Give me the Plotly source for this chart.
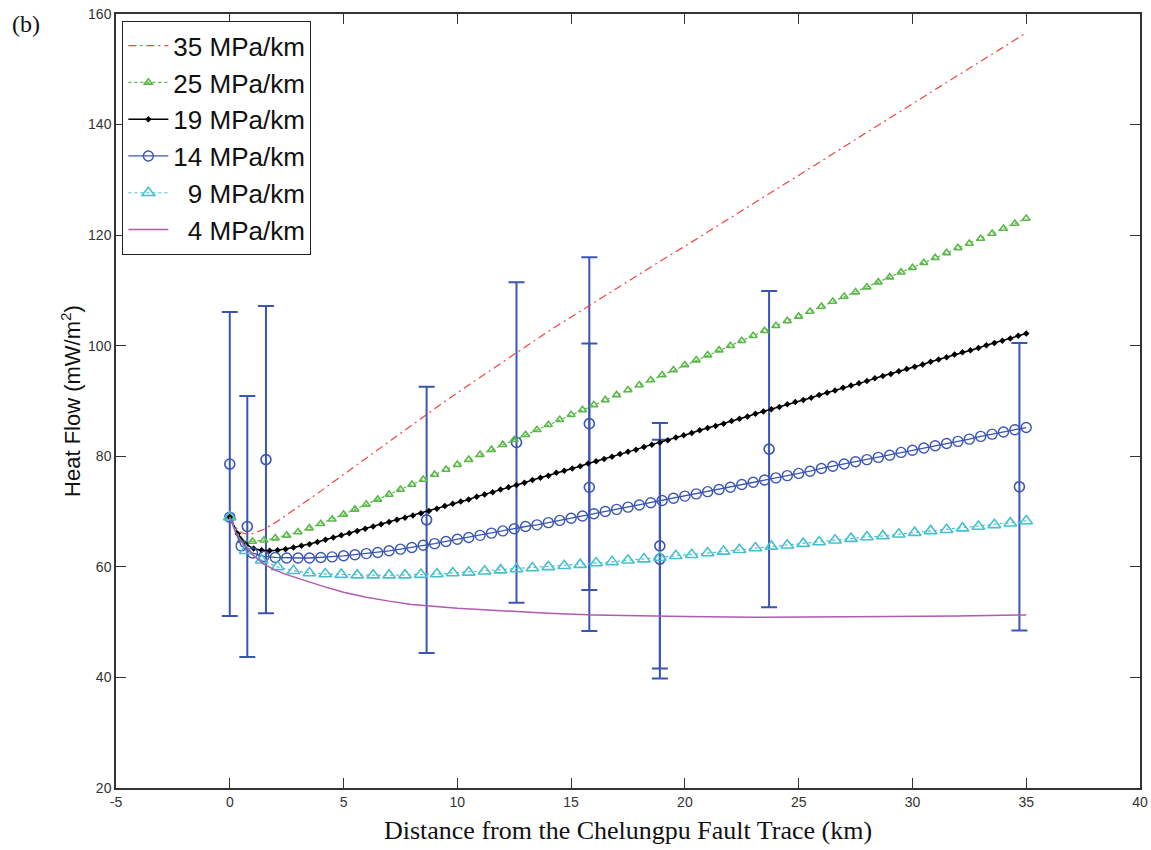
import numpy as np
import plotly.graph_objects as go

# ---------------- data ----------------
# measured heat flow with error bars
obs_x = [0.0, 0.77, 1.59, 8.65, 12.6, 15.8, 15.8, 18.9, 18.9, 23.7, 34.7]
obs_y = [78.6, 67.3, 79.4, 68.5, 82.5, 85.9, 74.4, 63.8, 61.4, 81.3, 74.5]
obs_err = [27.5, 23.6, 27.8, 24.1, 29.0, 30.1, 26.0, 22.2, 21.6, 28.6, 26.0]

# 35 MPa/km (dash-dot red line)
x35 = [0, 0.25, 0.5, 0.75, 1, 1.5, 2, 3, 4, 5, 6, 7, 8, 9, 10, 11, 12, 13, 14,
       15, 16, 17, 18, 19, 20, 22, 24, 26, 28, 30, 32, 34, 35]
y35 = [69.0, 67.2, 66.2, 65.9, 66.0, 66.8, 68.0, 70.8, 73.7, 76.7, 79.7, 82.7,
       85.7, 88.6, 91.5, 94.3, 97.1, 99.9, 102.6, 105.2, 107.8, 110.4, 113.0,
       115.5, 118.0, 123.1, 128.3, 133.4, 138.6, 143.8, 148.9, 154.0, 156.6]

# 25 MPa/km (green dotted, small triangles), every 0.5 km
x25 = list(np.round(np.arange(0, 35.01, 0.5), 2))
y25 = [69.0, 64.8, 64.6, 64.8, 65.2, 65.7, 66.3, 67.0, 67.8, 68.6,
       69.5, 70.4, 71.3, 72.2, 73.1, 74.0, 74.9, 75.8, 76.7, 77.6,
       78.5, 79.4, 80.3, 81.2, 82.1, 83.0, 83.9, 84.8, 85.7, 86.6,
       87.5, 88.4, 89.3, 90.2, 91.1, 92.0, 92.9, 93.8, 94.7, 95.6,
       96.5, 97.4, 98.3, 99.2, 100.0, 100.9, 101.8, 102.7, 103.6, 104.5,
       105.3, 106.2, 107.1, 108.0, 108.9, 109.7, 110.6, 111.5, 112.4, 113.3,
       114.1, 115.0, 115.9, 116.8, 117.7, 118.5, 119.4, 120.3, 121.2, 122.1,
       123.0]

# 19 MPa/km (black solid, dots), every 0.35 km
x19 = list(np.round(np.linspace(0, 35, 101), 3))
y19 = [69.0, 66.0, 64.1, 63.3, 63.0, 62.9, 63.0, 63.2, 63.5, 63.8,
       64.1, 64.5, 64.9, 65.3, 65.7, 66.1, 66.5, 66.9, 67.3, 67.7,
       68.1, 68.5, 68.9, 69.3, 69.7, 70.1, 70.5, 71.0, 71.4, 71.8,
       72.2, 72.7, 73.1, 73.5, 74.0, 74.4, 74.8, 75.2, 75.7, 76.1,
       76.5, 77.0, 77.4, 77.8, 78.2, 78.7, 79.1, 79.5, 79.9, 80.4,
       80.8, 81.2, 81.7, 82.1, 82.5, 82.9, 83.4, 83.8, 84.2, 84.7,
       85.1, 85.5, 85.9, 86.4, 86.8, 87.2, 87.7, 88.1, 88.5, 88.9,
       89.4, 89.8, 90.2, 90.6, 91.1, 91.5, 91.9, 92.4, 92.8, 93.2,
       93.6, 94.1, 94.5, 94.9, 95.4, 95.8, 96.2, 96.6, 97.1, 97.5,
       97.9, 98.4, 98.8, 99.2, 99.6, 100.1, 100.5, 100.9, 101.3, 101.8,
       102.2]

# 14 MPa/km (blue solid, open circles), every 0.5 km
x14 = list(np.round(np.arange(0, 35.01, 0.5), 2))
y14 = [69.0, 63.8, 62.5, 61.9, 61.7, 61.6, 61.6, 61.6, 61.7, 61.8,
       62.0, 62.2, 62.4, 62.6, 62.9, 63.2, 63.5, 63.9, 64.2, 64.6,
       65.0, 65.3, 65.7, 66.1, 66.5, 66.9, 67.3, 67.6, 68.0, 68.4,
       68.8, 69.2, 69.6, 70.0, 70.4, 70.8, 71.2, 71.6, 72.0, 72.4,
       72.8, 73.2, 73.6, 74.0, 74.4, 74.9, 75.3, 75.7, 76.1, 76.5,
       76.9, 77.3, 77.8, 78.2, 78.6, 79.0, 79.4, 79.8, 80.2, 80.7,
       81.1, 81.5, 81.9, 82.3, 82.7, 83.1, 83.6, 84.0, 84.4, 84.8,
       85.2]

# 9 MPa/km (cyan dotted, open triangles), every 0.7 km
x9 = list(np.round(np.arange(0, 35.01, 0.7), 2))
y9 = [69.0, 62.9, 61.2, 60.0, 59.3, 58.9, 58.7, 58.6, 58.5, 58.5,
      58.5, 58.5, 58.6, 58.7, 58.9, 59.0, 59.2, 59.4, 59.6, 59.8,
      60.0, 60.2, 60.4, 60.7, 60.9, 61.2, 61.4, 61.7, 62.0, 62.2,
      62.5, 62.8, 63.1, 63.4, 63.7, 63.9, 64.2, 64.5, 64.8, 65.1,
      65.4, 65.6, 65.9, 66.2, 66.5, 66.7, 67.0, 67.3, 67.6, 67.9,
      68.3]

# 4 MPa/km (magenta solid line)
x4 = [0, 0.1, 0.25, 0.5, 0.75, 1, 1.5, 2, 2.5, 3, 4, 5, 6, 7, 8, 10, 12, 14,
      16, 18, 20, 23, 26, 29, 32, 35]
y4 = [69.0, 67.8, 66.3, 64.6, 63.3, 62.2, 60.5, 59.4, 58.6, 57.9, 56.6, 55.4,
      54.5, 53.8, 53.2, 52.5, 52.0, 51.6, 51.3, 51.1, 51.0, 50.9, 50.9, 51.0,
      51.1, 51.3]

labels = ["35 MPa/km", "25 MPa/km", "19 MPa/km", "14 MPa/km",
          "\u00a0\u00a09 MPa/km", "\u00a0\u00a04 MPa/km"]

x_ticks = list(range(-5, 41, 5))
x_ticktext = [str(v) for v in x_ticks]
y_ticks = list(range(20, 161, 20))
y_ticktext = [str(v) for v in y_ticks]

# ---------------- styles ----------------
BLUE = "#3a55b4"
fig = go.Figure()

fig.add_trace(go.Scatter(
    x=obs_x, y=obs_y, mode="markers", showlegend=False,
    marker=dict(symbol="circle-open", size=10, color=BLUE, line=dict(width=1.6, color=BLUE)),
    error_y=dict(type="data", array=obs_err, visible=True, color=BLUE, thickness=2, width=8),
))

fig.add_trace(go.Scatter(
    x=x35, y=y35, mode="lines", name=labels[0],
    line=dict(color="#f0453f", width=1.2, dash="8px,4px,2px,4px"),
))
fig.add_trace(go.Scatter(
    x=x25, y=y25, mode="lines+markers", name=labels[1],
    line=dict(color="#5ab848", width=1.2, dash="dot"),
    marker=dict(symbol="triangle-up-open", size=7, color="#5ab848", line=dict(width=1.6, color="#5ab848")),
))
fig.add_trace(go.Scatter(
    x=x19, y=y19, mode="lines+markers", name=labels[2],
    line=dict(color="#000000", width=1.5),
    marker=dict(symbol="diamond", size=5, color="#000000"),
))
fig.add_trace(go.Scatter(
    x=x14, y=y14, mode="lines+markers", name=labels[3],
    line=dict(color=BLUE, width=1.3),
    marker=dict(symbol="circle-open", size=10, color=BLUE, line=dict(width=1.4, color=BLUE)),
))
fig.add_trace(go.Scatter(
    x=x9, y=y9, mode="lines+markers", name=labels[4],
    line=dict(color="#45c0cf", width=1.2, dash="dot"),
    marker=dict(symbol="triangle-up-open", size=11, color="#45c0cf", line=dict(width=1.6, color="#45c0cf")),
))
fig.add_trace(go.Scatter(
    x=x4, y=y4, mode="lines", name=labels[5],
    line=dict(color="#b05ab0", width=1.5),
))

axis_common = dict(
    showline=True, linecolor="#333333", linewidth=1.5, mirror="ticks",
    ticks="inside", ticklen=10, tickwidth=1, tickcolor="#333333",
    showgrid=False, zeroline=False, automargin=False,
    ticklabeloverflow="allow",
    tickfont=dict(family="Liberation Sans Narrow, Liberation Sans, Arial", size=14, color="#333333"),
)

fig.update_xaxes(
    range=[-5, 40], tickmode="array", tickvals=x_ticks, ticktext=x_ticktext,
    title=dict(text="Distance from the Chelungpu Fault Trace (km)",
               font=dict(family="Liberation Serif, Times New Roman, serif", size=26, color="#111111"),
               standoff=12),
    **axis_common,
)
fig.update_yaxes(
    range=[20, 160], tickmode="array", tickvals=y_ticks, ticktext=y_ticktext,
    title=dict(text="Heat Flow (mW/m<sup>2</sup>)",
               font=dict(family="Liberation Sans, Arial", size=22, color="#111111"),
               standoff=1),
    **axis_common,
)

fig.add_annotation(
    text="(b)", xref="paper", yref="paper", x=-0.104, y=1.006,
    xanchor="left", yanchor="top", showarrow=False,
    font=dict(family="Liberation Serif, Times New Roman, serif", size=24, color="#111111"),
)

fig.update_layout(
    width=1151, height=850,
    margin=dict(l=116, r=11, t=14, b=62, autoexpand=False),
    paper_bgcolor="white", plot_bgcolor="white",
    showlegend=True,
    legend=dict(
        x=0.006, y=0.991, xanchor="left", yanchor="top",
        bgcolor="white", bordercolor="#222222", borderwidth=1.2,
        font=dict(family="Liberation Sans, Arial", size=26, color="#111111"),
        tracegroupgap=0, itemwidth=40,
    ),
)

fig.write_html("out.html", config={"displayModeBar": False})

# remove the default page margin so the figure fills the window exactly
with open("out.html", "r", encoding="utf-8") as f:
    page = f.read()
page = page.replace("<head>", "<head><style>html,body{margin:0;padding:0;overflow:hidden;}</style>", 1)
with open("out.html", "w", encoding="utf-8") as f:
    f.write(page)
